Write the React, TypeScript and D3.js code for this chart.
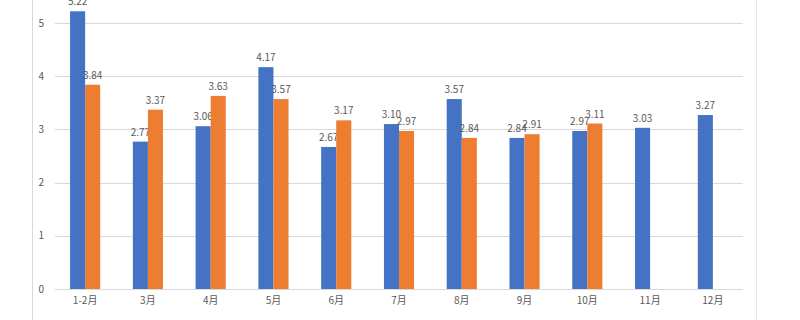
import React from "react";
import * as d3 from "d3";

const categories = ["1-2月", "3月", "4月", "5月", "6月", "7月", "8月", "9月", "10月", "11月", "12月"];
const seriesA: (number | null)[] = [5.22, 2.77, 3.06, 4.17, 2.67, 3.1, 3.57, 2.84, 2.97, 3.03, 3.27];
const seriesB: (number | null)[] = [3.84, 3.37, 3.63, 3.57, 3.17, 2.97, 2.84, 2.91, 3.11, null, null];
const yTicks = [0, 1, 2, 3, 4, 5];

const W = 800, H = 320;
const left = 55, right = 743, y0 = 289, y5 = 23;

export default function App() {
  const x = d3.scaleBand<string>().domain(categories).range([left, right]).paddingInner(0.52).paddingOuter(0.24);
  const y = d3.scaleLinear().domain([0, 5]).range([y0, y5]);
  const inner = d3.scaleBand<string>().domain(["a", "b"]).range([0, x.bandwidth()]);
  const series = [
    { key: "a", values: seriesA, color: "#4472C4" },
    { key: "b", values: seriesB, color: "#ED7D31" },
  ];
  const fmt = d3.format(".2f");
  return (
    <svg width={W} height={H} style={{ position: "absolute", left: 0, top: 0, background: "#fff" }}
      fontFamily="'Microsoft YaHei', 'Noto Sans CJK SC', sans-serif">
      <line x1={32.5} x2={32.5} y1={0} y2={H} stroke="#d9d9d9" />
      <line x1={756.5} x2={756.5} y1={0} y2={H} stroke="#e6e6e6" />
      {yTicks.map((t) => (
        <g key={t}>
          <line x1={left} x2={right} y1={Math.round(y(t)) + 0.5} y2={Math.round(y(t)) + 0.5} stroke="#d9d9d9" />
          <text x={44} y={y(t)} dy="0.35em" textAnchor="end" fontSize={10} fill="#595959">{t}</text>
        </g>
      ))}
      {series.map((s) =>
        s.values.map((v, i) =>
          v == null ? null : (
            <g key={s.key + i}>
              <rect x={(x(categories[i]) as number) + (inner(s.key) as number)} y={y(v)}
                width={inner.bandwidth()} height={y(0) - y(v)} fill={s.color} />
              <text x={(x(categories[i]) as number) + (inner(s.key) as number) + inner.bandwidth() / 2}
                y={y(v) - 6} textAnchor="middle" fontSize={10} fill="#595959">{fmt(v)}</text>
            </g>
          )
        )
      )}
      {categories.map((c) => (
        <text key={c} x={(x(c) as number) + x.bandwidth() / 2} y={304} textAnchor="middle" fontSize={10} fill="#595959">{c}</text>
      ))}
    </svg>
  );
}
